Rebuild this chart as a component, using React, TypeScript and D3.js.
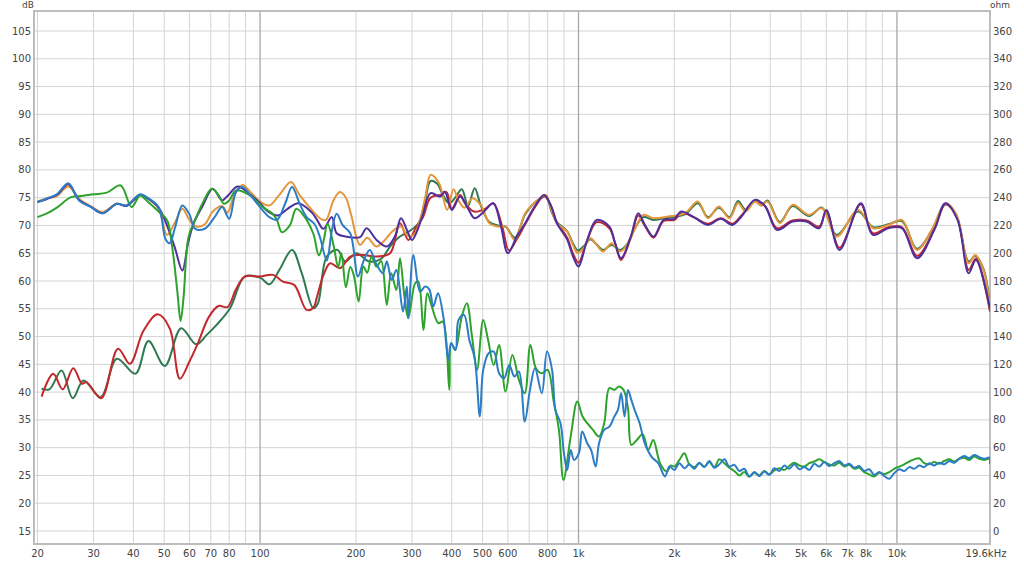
import React from "react";
import * as d3 from "d3";

// ---------- axis data ----------
const dbTicks = [15, 20, 25, 30, 35, 40, 45, 50, 55, 60, 65, 70, 75, 80, 85, 90, 95, 100, 105];
const ohmTicks = [0, 20, 40, 60, 80, 100, 120, 140, 160, 180, 200, 220, 240, 260, 280, 300, 320, 340, 360];
const freqGrid = [20, 30, 40, 50, 60, 70, 80, 90, 100, 200, 300, 400, 500, 600, 700, 800, 900, 1000, 2000, 3000, 4000, 5000, 6000, 7000, 8000, 9000, 10000];
const freqMajor = [100, 1000, 10000];
const freqLabels = [20, 30, 40, 50, 60, 70, 80, 100, 200, 300, 400, 500, 600, 800, 1000, 2000, 3000, 4000, 5000, 6000, 7000, 8000, 10000];
const endLabel = "19.6kHz";

// ---------- series data: [frequency Hz, level dB] ----------
const orange: [number, number][] = [
  [20, 74.3], [21.5, 74.9], [23, 75.3], [25, 77.0], [27, 74.8], [29.5, 73.4], [32, 72.4], [35.5, 73.9], [38, 73.6], [42, 75.4], [44, 75.0], [48, 73.0], [51, 68.3], [54, 70.5], [57, 73.0], [60, 71.0], [63, 69.8], [67, 70.2], [71, 72.5], [76, 73.5], [79, 72.3], [83, 75.5], [88, 77.3], [94, 75.8], [100, 74.3], [107, 73.6], [115, 75.5], [125, 77.8], [133, 75.5], [147, 72.5], [155, 71.2], [161, 71.0], [170, 74.5], [178, 76.0], [186, 75.0], [193, 72.0], [206, 66.5], [217, 67.8], [232, 66.2], [245, 67.2], [261, 69.0], [277, 69.8], [290, 68.2], [304, 68.3], [318, 71.0], [330, 75.0], [343, 79.1], [355, 78.6], [367, 77.3], [387, 72.8], [405, 76.5], [420, 74.5], [438, 73.2], [465, 74.9], [494, 73.6], [525, 70.4], [558, 69.8], [590, 69.8], [631, 67.4], [680, 72.2], [725, 74.0], [768, 75.2], [790, 75.5], [825, 72.5], [855, 70.4], [921, 68.9], [960, 66.5], [995, 65.0], [1040, 66.0], [1090, 67.7], [1140, 66.5], [1194, 65.3], [1270, 66.8], [1350, 65.3], [1420, 66.5], [1500, 69.2], [1600, 71.9], [1720, 71.3], [1910, 71.6], [2160, 72.2], [2370, 74.3], [2550, 71.3], [2760, 73.4], [2980, 71.3], [3170, 74.0], [3350, 72.5], [3580, 74.3], [3750, 73.6], [3920, 74.3], [4290, 70.4], [4700, 73.7], [5300, 71.9], [5820, 73.1], [6470, 68.0], [7550, 72.8], [8420, 69.5], [9400, 70.1], [10360, 71.0], [11570, 65.6], [12930, 69.5], [14200, 74.0], [15310, 72.2], [16810, 63.2], [17600, 64.7], [18700, 62.0], [19600, 55.0],
];

const purple: [number, number][] = [
  [20, 74.2], [21.5, 74.8], [23, 75.5], [25, 77.4], [27, 74.6], [29.5, 73.3], [32, 72.2], [35.5, 73.9], [38, 73.5], [42, 75.5], [44, 75.0], [48, 73.2], [51, 70.0], [54, 66.0], [57, 61.9], [59.5, 67.0], [62, 70.5], [66, 73.5], [71, 76.6], [76, 74.5], [79, 75.3], [85, 77.0], [92, 75.8], [100, 74.0], [106, 72.5], [114, 71.8], [122, 73.0], [132, 74.0], [145, 72.4], [151, 71.0], [158, 69.4], [168, 71.5], [174, 68.6], [186, 68.0], [206, 67.9], [216, 69.5], [232, 67.4], [250, 66.2], [265, 68.0], [277, 71.3], [290, 69.0], [300, 67.4], [322, 71.3], [343, 75.8], [368, 75.2], [380, 76.1], [400, 72.8], [425, 75.2], [450, 73.0], [472, 71.3], [505, 72.5], [540, 74.0], [570, 70.0], [600, 65.0], [640, 68.0], [680, 70.4], [730, 73.5], [780, 75.5], [820, 73.5], [855, 70.4], [921, 67.5], [960, 64.5], [1000, 62.6], [1060, 67.0], [1140, 71.0], [1250, 69.8], [1300, 67.0], [1360, 64.1], [1460, 68.0], [1540, 72.2], [1620, 70.0], [1720, 68.0], [1850, 71.0], [2000, 71.2], [2100, 72.5], [2300, 71.5], [2550, 70.1], [2800, 71.2], [3040, 70.1], [3250, 71.6], [3580, 74.6], [3850, 73.5], [4200, 69.2], [4700, 70.7], [5200, 70.7], [5700, 69.5], [6000, 72.8], [6600, 65.6], [7700, 74.0], [8400, 68.3], [9400, 69.5], [10360, 69.5], [11570, 64.1], [13100, 69.2], [14200, 74.0], [15500, 71.0], [16800, 61.4], [17700, 63.8], [19600, 55.0],
];

const red: [number, number][] = [
  [20.6, 39.2], [22.4, 43.3], [24, 40.5], [25.9, 44.3], [27.6, 41.5], [28.5, 41.8], [31.7, 38.9], [35.8, 47.8], [39, 45.1], [43, 51.0], [47.7, 54.0], [52, 51.5], [56, 42.4], [60, 45.5], [64, 49.0], [69, 53.5], [74, 55.5], [79, 55.3], [84, 58.5], [89.5, 60.8], [100, 60.8], [110, 61.1], [118, 59.9], [128, 59.3], [140, 54.8], [147, 55.2], [151, 57.2], [158, 61.0], [166, 63.2], [178, 62.3], [192, 64.4], [211, 64.7], [230, 64.4], [256, 65.0], [275, 70.4], [292, 67.4], [310, 69.8], [325, 71.5], [343, 75.0], [368, 75.5], [385, 76.0], [400, 73.0], [425, 75.5], [440, 74.0], [470, 72.5], [510, 73.0], [540, 74.0], [575, 70.0], [605, 65.5], [640, 67.5], [680, 70.2], [730, 73.3], [780, 75.3], [820, 73.5], [855, 70.6], [921, 67.8], [960, 65.0], [1000, 63.3], [1060, 67.0], [1140, 70.6], [1250, 69.5], [1300, 67.0], [1360, 63.8], [1460, 67.8], [1540, 71.8], [1620, 69.8], [1720, 67.8], [1850, 70.8], [2000, 71.0], [2100, 72.2], [2300, 71.5], [2550, 70.3], [2800, 71.3], [3040, 70.3], [3250, 71.8], [3580, 74.4], [3850, 73.5], [4200, 69.5], [4700, 70.9], [5200, 70.9], [5700, 69.8], [6000, 72.6], [6600, 66.0], [7700, 73.8], [8400, 68.6], [9400, 69.7], [10360, 69.7], [11570, 64.5], [13100, 69.3], [14200, 73.8], [15500, 71.2], [16800, 62.0], [17700, 64.0], [19600, 54.5],
];

const darkGreen: [number, number][] = [
  [20.6, 40.6], [21.8, 40.5], [23.8, 43.9], [25.8, 38.9], [27.9, 42.1], [31.6, 39.1], [35.5, 46.0], [40.6, 43.3], [44.6, 49.2], [50.2, 44.7], [56.5, 51.5], [63, 48.6], [68, 50.3], [73, 52.1], [80.5, 55.1], [89.5, 60.8], [100, 60.6], [107, 59.4], [115, 62.0], [126, 65.6], [135, 61.5], [147, 55.1], [152, 56.0], [162, 64.4], [175, 65.6], [185, 63.5], [201, 65.0], [220, 63.5], [240, 64.0], [256, 66.2], [275, 68.0], [295, 69.0], [315, 70.5], [330, 74.5], [343, 78.0], [360, 77.5], [375, 75.5], [392, 74.0], [410, 75.0], [430, 76.5], [450, 73.5], [472, 76.7], [494, 73.5], [525, 70.6], [558, 70.0], [590, 69.8], [631, 67.8], [680, 72.0], [725, 74.0], [768, 75.0], [790, 75.3], [825, 72.3], [855, 70.6], [921, 69.0], [960, 66.8], [995, 65.5], [1040, 66.3], [1090, 67.5], [1140, 66.6], [1194, 65.6], [1270, 66.5], [1350, 65.6], [1420, 66.6], [1500, 69.4], [1600, 71.5], [1720, 71.0], [1910, 71.4], [2160, 72.0], [2370, 74.0], [2550, 71.5], [2760, 73.2], [2980, 71.5], [3170, 74.4], [3350, 72.8], [3580, 74.4], [3750, 73.6], [3920, 74.5], [4290, 70.6], [4700, 73.5], [5300, 71.7], [5820, 73.2], [6470, 68.3], [7550, 72.5], [8420, 69.7], [9400, 70.2], [10360, 70.8], [11570, 65.8], [12930, 69.3], [14200, 73.8], [15310, 72.0], [16810, 63.5], [17600, 64.5], [18700, 62.2], [19600, 55.2],
];

const blue: [number, number][] = [
  [20, 74.2], [21.5, 74.9], [23, 75.6], [25, 77.6], [27, 74.5], [29.5, 73.3], [32, 72.2], [35.5, 73.9], [38, 73.6], [42, 75.6], [44, 75.1], [48, 73.3], [50.5, 67.5], [52, 66.8], [54, 69.5], [57, 73.6], [60, 72.0], [62.5, 69.4], [67, 69.4], [72, 71.5], [76, 73.3], [80, 71.2], [84, 76.0], [88, 76.9], [93, 75.5], [100, 73.3], [107, 71.5], [113, 71.0], [120, 74.0], [126, 76.9], [133, 74.0], [140, 71.5], [148, 70.3], [154, 68.0], [162, 63.7], [168, 69.0], [174, 72.1], [182, 70.0], [192, 68.6], [203, 60.8], [211, 63.5], [221, 65.6], [232, 63.0], [243, 61.4], [250, 63.5], [259, 60.2], [268, 62.0], [281, 54.5], [289, 59.0], [292, 53.3], [303, 64.7], [318, 58.1], [330, 59.0], [340, 58.5], [350, 55.4], [362, 57.8], [377, 53.3], [390, 45.8], [398, 48.8], [411, 47.6], [420, 53.0], [437, 53.9], [454, 49.4], [472, 46.1], [490, 35.6], [502, 44.0], [522, 47.0], [542, 47.3], [563, 43.4], [584, 42.5], [606, 44.9], [629, 42.8], [650, 43.7], [678, 34.7], [704, 40.4], [730, 44.3], [767, 39.8], [796, 47.3], [826, 44.0], [846, 36.8], [878, 34.4], [900, 29.0], [922, 26.0], [945, 29.6], [968, 27.8], [1003, 29.0], [1027, 32.9], [1065, 30.8], [1095, 29.6], [1132, 26.6], [1160, 30.8], [1204, 33.2], [1250, 33.8], [1296, 35.6], [1330, 36.8], [1361, 39.8], [1395, 35.6], [1430, 40.4], [1465, 38.6], [1500, 36.8], [1556, 34.4], [1614, 30.8], [1694, 28.4], [1780, 27.2], [1869, 24.8], [1930, 26.6],
  [2000, 26.0], [2074, 27.2], [2150, 26.3], [2229, 27.0], [2311, 26.2], [2396, 27.3], [2484, 26.5], [2576, 27.6], [2670, 26.4], [2769, 27.0], [2871, 27.9], [2976, 26.6], [3086, 26.9], [3199, 25.8], [3317, 26.2], [3439, 24.8], [3566, 25.6], [3697, 24.9], [3833, 25.7], [3974, 25.1], [4120, 26.3], [4272, 25.8], [4429, 26.8], [4592, 26.2], [4761, 27.0], [4936, 26.1], [5118, 26.5], [5306, 26.0], [5501, 27.1], [5703, 26.6], [5913, 27.4], [6131, 26.7], [6356, 27.2], [6590, 27.6], [6833, 26.8], [7084, 27.1], [7345, 26.4], [7615, 26.7], [7895, 25.8], [8186, 26.1], [8487, 25.1], [8799, 25.6], [9123, 24.9], [9459, 24.4], [9807, 25.4], [10168, 26.1], [10542, 25.8], [10930, 26.5], [11332, 26.2], [11749, 26.8], [12181, 26.5], [12630, 27.2], [13094, 26.8], [13576, 27.3], [14076, 27.0], [14594, 27.6], [15131, 27.3], [15688, 28.0], [16265, 28.5], [16864, 28.1], [17484, 28.7], [18128, 28.3], [18795, 28.0], [19486, 28.2], [19600, 27.4],
];

const green: [number, number][] = [
  [20, 71.5], [21.5, 72.2], [23, 73.2], [25.5, 75.1], [27.5, 75.3], [30, 75.6], [33, 75.9], [36.5, 77.2], [39.5, 73.3], [42, 75.4], [44, 74.5], [48, 72.5], [51, 71.0], [53, 66.0], [55, 58.0], [56.3, 52.8], [57.5, 57.0], [59.6, 67.9], [62.5, 71.0], [66, 74.0], [70.5, 76.6], [74, 75.5], [77, 73.9], [80, 74.5], [84, 76.3], [93, 75.4], [102, 73.3], [109, 72.2], [113, 71.0], [117, 68.8], [124, 70.0], [130, 73.0], [140, 71.0], [147, 68.5], [153, 64.6], [158, 67.0], [163, 70.3], [170, 66.5], [176, 62.5], [180, 65.0], [186, 58.9], [192, 62.5], [197, 61.0], [204, 56.3], [211, 62.6], [217, 61.5], [224, 64.4], [232, 62.6], [240, 63.6], [250, 55.7], [258, 61.4], [268, 58.4], [275, 64.1], [284, 57.2], [292, 53.3], [307, 59.6], [314, 59.9], [326, 51.2], [335, 57.8], [345, 55.7], [363, 52.4], [375, 52.7], [393, 40.4], [398, 48.8], [410, 47.6], [430, 53.6], [446, 56.0], [463, 50.0], [480, 44.0], [502, 53.0], [520, 49.4], [542, 44.9], [563, 48.5], [590, 40.1], [620, 46.7], [650, 42.2], [678, 39.8], [706, 48.5], [735, 44.3], [767, 43.4], [800, 44.0], [836, 38.3], [868, 33.2], [897, 24.2], [945, 32.0], [991, 38.3], [1030, 35.6], [1065, 34.4], [1110, 33.2], [1160, 32.0], [1204, 34.4], [1250, 40.7], [1296, 40.4], [1340, 41.0], [1385, 40.4], [1430, 37.1], [1465, 30.5], [1520, 31.3], [1590, 32.4], [1655, 29.6], [1717, 31.4], [1803, 27.2], [1893, 25.7], [1950, 26.8],
  [2000, 26.6], [2074, 27.8], [2150, 29.0], [2229, 27.0], [2311, 26.5], [2396, 27.2], [2484, 26.6], [2576, 27.4], [2670, 26.5], [2769, 27.9], [2871, 27.2], [2976, 26.4], [3086, 25.8], [3199, 25.0], [3317, 25.6], [3439, 24.8], [3566, 25.5], [3697, 25.0], [3833, 25.8], [3974, 25.2], [4120, 25.9], [4272, 26.3], [4429, 26.0], [4592, 26.7], [4761, 27.3], [4936, 26.8], [5118, 26.6], [5306, 27.2], [5501, 27.5], [5703, 27.9], [5913, 27.4], [6131, 27.0], [6356, 26.8], [6590, 27.3], [6833, 26.6], [7084, 26.9], [7345, 26.2], [7615, 26.4], [7895, 25.6], [8186, 25.2], [8487, 24.8], [8799, 25.5], [9123, 25.2], [9459, 25.6], [9807, 26.2], [10168, 26.6], [10542, 27.0], [10930, 27.5], [11332, 27.9], [11749, 28.1], [12181, 27.2], [12630, 27.0], [13094, 27.4], [13576, 27.1], [14076, 27.6], [14594, 27.9], [15131, 27.5], [15688, 28.0], [16265, 28.2], [16864, 27.8], [17484, 28.4], [18128, 28.0], [18795, 27.8], [19486, 28.0], [19600, 27.0],
];

const seriesList = [
  { name: "darkGreen", data: darkGreen, color: "#2f7a52" },
  { name: "red", data: red, color: "#c3282c" },
  { name: "orange", data: orange, color: "#e3963a" },
  { name: "purple", data: purple, color: "#4f2f9e" },
  { name: "green", data: green, color: "#2ea32c" },
  { name: "blue", data: blue, color: "#2c7cc6" },
];

const W = 1024;
const H = 563;
const plot = { left: 34, right: 990, top: 11, bottom: 544 };

export default function App() {
  const x = d3.scaleLog().domain([20, 19600]).range([37.5, 990]);
  const y = d3.scaleLinear().domain([15, 105]).range([531, 31]);
  const yOhm = d3.scaleLinear().domain([0, 360]).range([531, 31]);

  const line = d3
    .line<[number, number]>()
    .x((d) => x(d[0]))
    .y((d) => y(d[1]))
    .curve(d3.curveCatmullRom.alpha(0.5));

  const fmt = (f: number) => (f >= 1000 ? `${f / 1000}k` : `${f}`);
  const font = "'DejaVu Sans', sans-serif";

  return (
    <svg
      width={W}
      height={H}
      style={{ position: "absolute", left: 0, top: 0, background: "#ffffff" }}
    >
      <defs>
        <clipPath id="plotClip">
          <rect x={plot.left} y={plot.top} width={plot.right - plot.left} height={plot.bottom - plot.top} />
        </clipPath>
      </defs>
      <rect x={0} y={0} width={W} height={H} fill="#ffffff" />
      {dbTicks.map((t) => (
        <line key={"h" + t} x1={plot.left} x2={plot.right} y1={y(t)} y2={y(t)} stroke="#d4d4d4" strokeWidth={1} />
      ))}
      {freqGrid.map((f) => (
        <line
          key={"v" + f}
          x1={x(f)}
          x2={x(f)}
          y1={plot.top}
          y2={plot.bottom}
          stroke={freqMajor.includes(f) ? "#a8a8a8" : "#d4d4d4"}
          strokeWidth={freqMajor.includes(f) ? 1.3 : 1}
        />
      ))}
      <rect
        x={plot.left}
        y={plot.top}
        width={plot.right - plot.left}
        height={plot.bottom - plot.top}
        fill="none"
        stroke="#bdbdbd"
        strokeWidth={2}
      />
      <g clipPath="url(#plotClip)">
        {seriesList.map((s) => (
          <path key={s.name} d={line(s.data) || ""} fill="none" stroke={s.color} strokeWidth={2} strokeLinejoin="round" />
        ))}
      </g>
      <text x={28} y={8} fontSize={9} fontFamily={font} fill="#444" textAnchor="middle">dB</text>
      {dbTicks.map((t) => (
        <text key={"l" + t} x={31} y={y(t) + 3.5} fontSize={10} fontFamily={font} fill="#444" textAnchor="end">
          {t}
        </text>
      ))}
      <text x={1000} y={8} fontSize={9} fontFamily={font} fill="#444" textAnchor="middle">ohm</text>
      {ohmTicks.map((t) => (
        <text key={"r" + t} x={993} y={yOhm(t) + 3.5} fontSize={10} fontFamily={font} fill="#444" textAnchor="start">
          {t}
        </text>
      ))}
      {freqLabels.map((f) => (
        <text key={"b" + f} x={x(f)} y={557} fontSize={10} fontFamily={font} fill="#444" textAnchor="middle">
          {fmt(f)}
        </text>
      ))}
      <text x={986} y={557} fontSize={10} fontFamily={font} fill="#444" textAnchor="middle">{endLabel}</text>
    </svg>
  );
}
